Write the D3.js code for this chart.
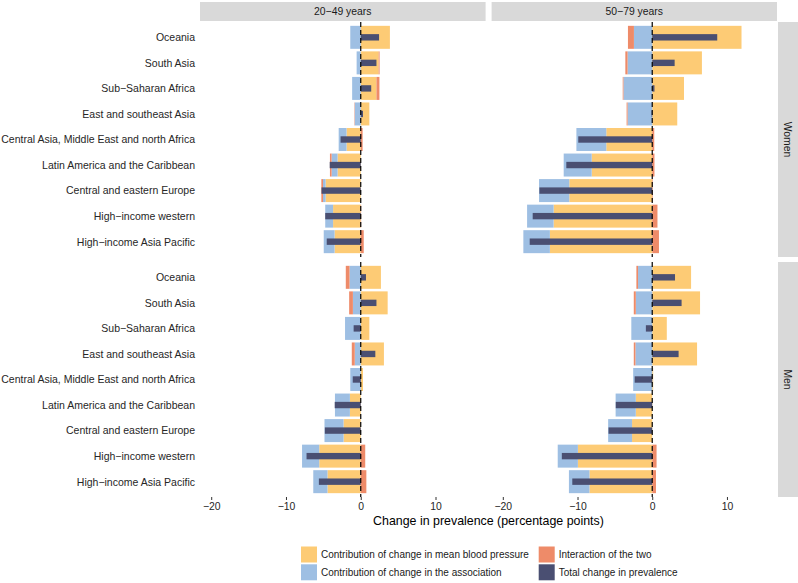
<!DOCTYPE html>
<html>
<head>
<meta charset="utf-8">
<script src="https://cdn.jsdelivr.net/npm/d3@7"></script>
<style>
  html, body { margin: 0; padding: 0; background: #fff; }
  svg { display: block; font-family: "Liberation Sans", Arial, sans-serif; }
</style>
</head>
<body>
<svg id="chart" width="798" height="583"></svg>
<script>
// ---------- data ----------
const regions = [
  "Oceania", "South Asia", "Sub\u2212Saharan Africa", "East and southeast Asia",
  "Central Asia, Middle East and north Africa", "Latin America and the Caribbean",
  "Central and eastern Europe", "High\u2212income western", "High\u2212income Asia Pacific"
];
const ageGroups = ["20\u221249 years", "50\u221279 years"];
const sexes = ["Women", "Men"];
const xTicks = [-20, -10, 0, 10];

// Women 20-49
const women2049BP     = [3.9, 2.4, 2.1, 1.15, -1.9, -3.1, -4.7, -3.7, -3.5];
const women2049Assoc  = [-1.4, -0.55, -1.15, -0.8, -1.05, -0.8, -0.35, -1.05, -1.45];
const women2049Inter  = [0, 0.12, 0.4, -0.05, 0.25, -0.22, -0.22, 0.05, 0.4];
const women2049Total  = [2.45, 2.1, 1.4, 0.3, -2.7, -4.15, -5.25, -4.75, -4.55];
// Women 50-79
const women5079BP     = [11.95, 6.65, 4.25, 3.35, -6.15, -8.1, -11.1, -13.2, -13.7];
const women5079Assoc  = [-2.45, -3.3, -3.85, -3.3, -4.0, -3.75, -4.05, -3.55, -3.55];
const women5079Inter  = [-0.8, -0.3, -0.1, -0.13, 0.27, 0.3, 0.08, 0.7, 0.9];
const women5079Total  = [8.7, 3.0, 0.3, -0.08, -9.9, -11.5, -15.1, -16.0, -16.4];
// Men 20-49
const men2049BP       = [2.7, 3.6, 1.15, 3.1, 0.3, -1.45, -2.3, -5.55, -4.45];
const men2049Assoc    = [-1.5, -1.05, -2.1, -0.8, -1.4, -2.0, -2.55, -2.3, -1.9];
const men2049Inter    = [-0.5, -0.5, 0, -0.4, 0, 0, 0, 0.6, 0.75];
const men2049Total    = [0.7, 2.1, -0.95, 1.95, -1.07, -3.48, -4.8, -7.25, -5.6];
// Men 50-79
const men5079BP       = [5.2, 6.4, 1.95, 6.0, 0.13, -2.2, -2.7, -9.95, -8.4];
const men5079Assoc    = [-1.9, -2.2, -2.8, -2.25, -2.55, -2.7, -3.2, -2.7, -2.75];
const men5079Inter    = [-0.22, -0.27, 0, -0.22, 0, 0, 0, 0.58, 0.5];
const men5079Total    = [3.05, 3.93, -0.85, 3.53, -2.35, -4.88, -5.85, -12.1, -10.7];

const legendLabels = [
  "Contribution of change in mean blood pressure",
  "Contribution of change in the association",
  "Interaction of the two",
  "Total change in prevalence"
];

// ---------- build facet table ----------
const facets = [
  {sex: "Women", age: ageGroups[0], bp: women2049BP, assoc: women2049Assoc, inter: women2049Inter, total: women2049Total},
  {sex: "Women", age: ageGroups[1], bp: women5079BP, assoc: women5079Assoc, inter: women5079Inter, total: women5079Total},
  {sex: "Men",   age: ageGroups[0], bp: men2049BP,   assoc: men2049Assoc,   inter: men2049Inter,   total: men2049Total},
  {sex: "Men",   age: ageGroups[1], bp: men5079BP,   assoc: men5079Assoc,   inter: men5079Inter,   total: men5079Total}
];

const colors = {bp: "#FDCB75", assoc: "#9EBFE3", inter: "#EE8B69", total: "#4A4F72"};
const textCol = "#262626";
const FONT = "Liberation Sans, Arial, sans-serif";

// ---------- layout ----------
const svg = d3.select("#chart");
const panelCols = [[200, 485.6], [491.6, 777]];
const panelRows = [[22, 257], [262, 497]];
const stripTop = [2, 21];
const stripRight = [778, 798];
const xDomain = [-21.5, 16.7];

const xScales = panelCols.map(r => d3.scaleLinear().domain(xDomain).range(r));
const yScales = panelRows.map(r => d3.scalePoint().domain(regions).range(r).padding(0.6));

// strips on top
ageGroups.forEach((a, i) => {
  const [x0, x1] = panelCols[i];
  svg.append("rect").attr("x", x0).attr("y", stripTop[0]).attr("width", x1 - x0)
    .attr("height", stripTop[1] - stripTop[0]).attr("fill", "#D9D9D9");
  svg.append("text").attr("x", (x0 + x1) / 2).attr("y", (stripTop[0] + stripTop[1]) / 2)
    .attr("dy", "0.35em").attr("text-anchor", "middle").attr("font-size", 10.4)
    .attr("fill", "#1a1a1a").text(a);
});
// strips on right
sexes.forEach((s, j) => {
  const [y0, y1] = panelRows[j];
  svg.append("rect").attr("x", stripRight[0]).attr("y", y0).attr("width", stripRight[1] - stripRight[0])
    .attr("height", y1 - y0).attr("fill", "#D9D9D9");
  const cx = (stripRight[0] + stripRight[1]) / 2, cy = (y0 + y1) / 2;
  svg.append("text").attr("transform", `translate(${cx},${cy}) rotate(90)`)
    .attr("dy", "0.35em").attr("text-anchor", "middle").attr("font-size", 10.4)
    .attr("fill", "#1a1a1a").text(s);
});

// y axis labels (left)
panelRows.forEach((r, j) => {
  const g = svg.append("g").attr("transform", `translate(${panelCols[0][0]},0)`);
  const ax = d3.axisLeft(yScales[j]).tickSize(0).tickPadding(5);
  g.call(ax);
  g.select(".domain").remove();
  g.selectAll("text").attr("font-size", 10.5).attr("fill", textCol)
    .attr("font-family", FONT);
});

// bars
facets.forEach(f => {
  const i = ageGroups.indexOf(f.age);
  const j = sexes.indexOf(f.sex);
  const x = xScales[i];
  const y = yScales[j];
  const step = y.step();
  const bh = step * 0.9;
  const th = step * 0.25;
  const g = svg.append("g");
  regions.forEach((reg, k) => {
    let pos = 0, neg = 0;
    const segs = [["bp", f.bp[k]], ["assoc", f.assoc[k]], ["inter", f.inter[k]]];
    segs.forEach(([key, v]) => {
      if (v === 0) return;
      let a, b;
      if (v > 0) { a = pos; b = pos + v; pos = b; }
      else { a = neg; b = neg + v; neg = b; }
      g.append("rect")
        .attr("x", x(Math.min(a, b)))
        .attr("y", y(reg) - bh / 2)
        .attr("width", Math.abs(x(b) - x(a)))
        .attr("height", bh)
        .attr("fill", colors[key]);
    });
    const t = f.total[k];
    g.append("rect")
      .attr("x", x(Math.min(0, t)))
      .attr("y", y(reg) - th / 2)
      .attr("width", Math.abs(x(t) - x(0)))
      .attr("height", th)
      .attr("fill", colors.total);
  });
  // zero dashed line
  g.append("line")
    .attr("x1", x(0)).attr("x2", x(0))
    .attr("y1", panelRows[j][0]).attr("y2", panelRows[j][1])
    .attr("stroke", "#000").attr("stroke-width", 1.2)
    .attr("stroke-dasharray", "5,3");
});

// x axes
xScales.forEach((x, i) => {
  const g = svg.append("g").attr("transform", `translate(0,${panelRows[1][1]})`);
  const ax = d3.axisBottom(x).tickValues(xTicks).tickSize(3).tickPadding(3)
    .tickFormat(d => d < 0 ? "\u2212" + Math.abs(d) : String(d));
  g.call(ax);
  g.select(".domain").remove();
  g.selectAll(".tick line").attr("stroke", "#333");
  g.selectAll("text").attr("font-size", 10.4).attr("fill", textCol)
    .attr("font-family", FONT);
});

// axis title
svg.append("text")
  .attr("x", (panelCols[0][0] + panelCols[1][1]) / 2)
  .attr("y", 525)
  .attr("text-anchor", "middle").attr("font-size", 12.4).attr("fill", "#000")
  .text("Change in prevalence (percentage points)");

// legend
const legendKeys = ["bp", "assoc", "inter", "total"];
const legPos = [[301, 546.5], [301, 564.3], [538.7, 546.5], [538.7, 564.3]];
legendKeys.forEach((k, idx) => {
  const [lx, ly] = legPos[idx];
  svg.append("rect").attr("x", lx).attr("y", ly).attr("width", 16).attr("height", 16)
    .attr("fill", colors[k]);
  svg.append("text").attr("x", lx + 20).attr("y", ly + 8).attr("dy", "0.35em")
    .attr("font-size", 10).attr("fill", "#1a1a1a").text(legendLabels[idx]);
});
</script>
</body>
</html>
